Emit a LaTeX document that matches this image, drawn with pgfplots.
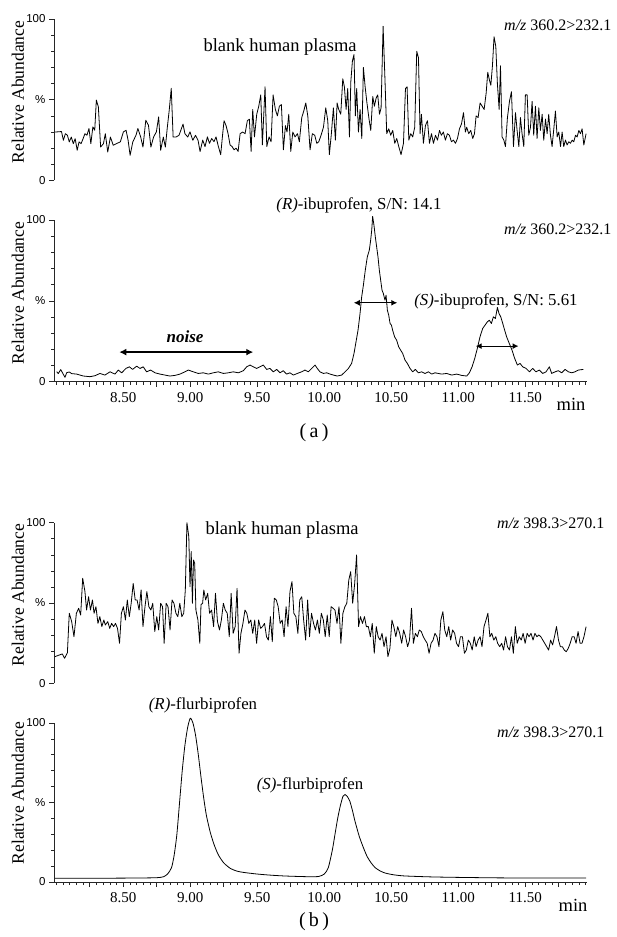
\documentclass[border=0pt]{standalone}
\usepackage{fontspec}
\setmainfont{Liberation Serif}
\newfontfamily\ysans{Liberation Sans}
\usepackage{pgfplots}
\pgfplotsset{compat=1.18}
\usetikzlibrary{arrows.meta}

\newcommand\fs[1]{\fontsize{#1}{#1}\selectfont}

\tikzset{
  dbl/.style={{Latex[length=#1,width=#1]}-{Latex[length=#1,width=#1]}},
}

\pgfplotsset{
  chrom/.style={
    scale only axis, width=532.5pt,
    xmin=7.983, xmax=11.957, ymin=0, ymax=100,
    clip=false, anchor=south west,
    axis line style={line width=0.8pt, black!85},
    tick style={line width=0.6pt, black!85},
    tick align=outside,
    major tick length=5pt, minor tick length=3pt,
    ytick={0,50,100}, yticklabels={0,\%,100},
    minor ytick={10,20,30,40,60,70,80,90},
    yticklabel style={font=\ysans\fs{11.5}},
  },
  withx/.style={
    axis lines*=left,
    xtick={8.25,8.5,...,11.75},
    xticklabels={,8.50,,9.00,,9.50,,10.00,,10.50,,11.00,,11.50,},
    minor xtick={8.0,8.05,...,11.96},
    xticklabel style={font=\fs{15}, yshift=-2pt},
  },
  nox/.style={axis y line*=left, axis x line=none, xtick=\empty},
  trace/.style={black, line width=0.8pt, line join=round, mark=none},
}

\begin{document}
\begin{tikzpicture}
\path[use as bounding box] (0,0) rectangle (617pt,937pt);

% (a) top: blank human plasma, ibuprofen channel
\begin{axis}[chrom, nox, at={(54pt,756.5pt)}, height=161.5pt]
\addplot[trace] coordinates {
(7.990,30.0) (8.039,30.3) (8.053,24.9) (8.068,29.0) (8.083,28.0) (8.097,23.9) (8.112,26.9)
(8.127,22.8) (8.141,25.9) (8.156,18.7) (8.170,23.9) (8.185,22.8) (8.200,25.9) (8.214,29.0)
(8.229,28.0) (8.244,32.2) (8.258,22.8) (8.273,33.2) (8.287,31.1) (8.299,49.8) (8.314,45.6)
(8.331,20.7) (8.352,22.8) (8.366,29.0) (8.384,17.6) (8.404,26.9) (8.425,21.8) (8.448,22.8)
(8.478,23.9) (8.501,30.1) (8.521,31.1) (8.536,24.9) (8.551,15.6) (8.571,23.9) (8.595,28.0)
(8.609,32.2) (8.630,26.9) (8.647,20.7) (8.668,37.3) (8.688,34.2) (8.706,20.7) (8.726,26.9)
(8.747,30.1) (8.764,39.4) (8.779,18.7) (8.799,26.9) (8.814,20.7) (8.829,33.2) (8.843,43.6)
(8.858,57.1) (8.872,26.9) (8.893,26.9) (8.916,28.0) (8.946,34.9) (8.960,29.0) (8.981,26.9)
(8.998,30.1) (9.019,24.9) (9.039,28.0) (9.058,24.9)
(9.073,17.9) (9.093,25) (9.110,21) (9.128,27) (9.143,23) (9.160,26) (9.177,24) (9.192,27)
(9.210,21) (9.227,16) (9.242,29) (9.252,37) (9.267,34) (9.282,29) (9.297,22) (9.312,21)
(9.327,19) (9.342,20) (9.357,18) (9.372,29) (9.391,30) (9.409,29) (9.426,37) (9.441,38)
(9.454,18) (9.466,44) (9.479,27) (9.496,41) (9.511,46) (9.526,53) (9.538,22) (9.558,58)
(9.571,21) (9.588,27) (9.603,24) (9.618,53) (9.635,44) (9.650,40) (9.665,46) (9.680,47)
(9.695,19) (9.710,34) (9.722,30) (9.735,41) (9.750,18) (9.765,30) (9.782,27) (9.800,29)
(9.814,24) (9.832,39) (9.847,43) (9.862,48) (9.877,40) (9.894,19) (9.911,29) (9.929,28)
(9.944,23) (9.959,24) (9.976,28) (9.994,33) (10.011,45) (10.026,37) (10.038,16) (10.053,29)
(10.068,45) (10.083,25) (10.096,48) (10.108,44) (10.123,41) (10.138,63) (10.150,58) (10.163,44)
(10.175,57) (10.188,27) (10.198,61) (10.210,74) (10.222,78) (10.232,40) (10.242,57) (10.255,30)
(10.267,44) (10.280,26) (10.292,70) (10.305,58) (10.317,49) (10.334,38) (10.347,31) (10.362,52)
(10.374,46) (10.387,51) (10.399,53) (10.412,41) (10.424,45) (10.439,95.5) (10.454,60) (10.466,29)
(10.481,32) (10.496,28) (10.511,31) (10.526,23) (10.541,26) (10.556,21) (10.573,16) (10.591,23)
(10.606,57) (10.618,58) (10.631,25) (10.645,29) (10.660,27) (10.675,33) (10.690,80) (10.703,76)
(10.715,29) (10.725,41) (10.740,23) (10.755,34) (10.770,37) (10.785,23) (10.800,29) (10.815,23)
(10.830,28) (10.845,25) (10.860,31) (10.874,28) (10.889,30) (10.904,25) (10.919,29) (10.934,28)
(10.949,24) (10.964,25) (10.979,23) (10.994,26) (11.009,32) (11.024,35) (11.039,42) (11.053,30)
(11.063,33) (11.078,29) (11.093,31) (11.108,26) (11.121,29) (11.133,40) (11.148,39) (11.163,48)
(11.178,46) (11.193,44) (11.208,54) (11.220,67) (11.233,62) (11.243,59) (11.255,71) (11.267,89)
(11.280,83) (11.292,60) (11.305,44) (11.315,71) (11.327,27) (11.340,25) (11.352,21) (11.367,39)
(11.382,49) (11.397,55) (11.412,21) (11.427,42) (11.439,31) (11.452,21) (11.464,39) (11.476,29)
(11.489,21) (11.501,53) (11.514,53) (11.526,28) (11.539,33) (11.551,49) (11.563,28) (11.576,46)
(11.588,26) (11.601,45) (11.613,31) (11.626,41) (11.638,25) (11.651,38) (11.663,29) (11.675,41)
(11.688,28) (11.700,21) (11.713,32) (11.725,43) (11.738,27) (11.750,30) (11.763,21) (11.775,30)
(11.787,21) (11.800,25) (11.812,22) (11.825,24) (11.837,23) (11.850,25) (11.862,24) (11.875,28)
(11.887,27) (11.900,31) (11.912,29) (11.924,32) (11.937,22) (11.954,29)
};
\end{axis}

% (a) bottom: ibuprofen enantiomers
\begin{axis}[chrom, withx, at={(54pt,555.3pt)}, height=161.7pt]
\addplot[trace] coordinates {
(8.003,6.2) (8.015,5.0) (8.033,7.5) (8.053,4.5) (8.065,2.7) (8.078,5.6) (8.097,6.0) (8.115,5.0)
(8.152,4.7) (8.202,3.5) (8.252,3.1) (8.289,3.7)
(8.326,5.1) (8.363,4.1) (8.401,6.1) (8.438,4.7) (8.463,7.2) (8.488,5.5) (8.520,8.2) (8.545,9.2)
(8.570,7.6) (8.600,9.6) (8.625,8.2) (8.649,9.2) (8.674,6.1) (8.704,7.2) (8.737,5.5) (8.774,4.7)
(8.811,4.1) (8.848,3.5) (8.886,3.9) (8.923,4.7) (8.960,6.1) (8.985,7.2) (9.023,6.1) (9.060,5.1)
(9.097,5.5) (9.135,4.7) (9.172,5.5) (9.209,6.1) (9.247,5.1) (9.284,5.5) (9.321,6.1) (9.359,5.5)
(9.396,6.8) (9.421,9.2) (9.446,10.3) (9.470,9.2) (9.495,8.2) (9.520,9.2) (9.545,10.3) (9.570,7.6)
(9.595,8.2) (9.620,6.1) (9.645,7.6) (9.670,5.5) (9.694,6.8) (9.719,4.7) (9.744,5.5) (9.769,4.1)
(9.799,5.1) (9.831,6.1) (9.856,7.2) (9.881,6.1) (9.906,8.2) (9.931,10.3) (9.948,8.2) (9.968,6.1)
(9.993,5.1) (10.018,5.5) (10.043,4.7) (10.068,4.1) (10.097,3.5) (10.130,4.1) (10.155,6.1) (10.180,8.2)
(10.204,11.3) (10.222,17.5) (10.237,24.7) (10.252,31.9) (10.267,42.2) (10.279,52.4) (10.292,59.7)
(10.306,68.9) (10.321,77.1) (10.336,81.3) (10.346,87.4) (10.354,93.6) (10.361,102.2) (10.371,96.7)
(10.381,89.5) (10.391,83.3) (10.401,77.1) (10.411,68.9) (10.421,62.7) (10.431,56.6) (10.441,54.5)
(10.453,50.4) (10.461,53.5) (10.471,44.2) (10.481,41.1) (10.491,36.0) (10.501,35.0) (10.510,31.9)
(10.525,27.7) (10.540,25.7) (10.555,21.6) (10.570,19.5) (10.585,17.5) (10.603,13.3) (10.620,11.3)
(10.640,8.2) (10.660,6.1) (10.680,7.6) (10.702,5.5) (10.727,6.1) (10.752,5.1) (10.777,6.1)
(10.802,4.7) (10.826,5.5) (10.851,5.1) (10.876,4.7) (10.914,5.1) (10.951,4.1) (10.988,4.7)
(11.025,3.9) (11.063,3.5) (11.083,5.5) (11.103,9.2) (11.123,14.4) (11.142,20.5) (11.162,27.7)
(11.182,32.9) (11.200,35.0) (11.217,37.0) (11.232,38.0) (11.247,36.0) (11.262,40.1) (11.277,39.1)
(11.292,45.9) (11.304,42.2) (11.317,40.1) (11.332,36.0) (11.346,31.9) (11.361,27.7) (11.381,23.6)
(11.401,19.5) (11.421,14.4) (11.441,10.3) (11.461,11.3) (11.481,9.2) (11.506,8.2) (11.531,6.1)
(11.555,8.2) (11.580,6.1) (11.605,7.2) (11.630,5.1) (11.655,6.1) (11.680,9.2) (11.697,5.1)
(11.722,6.1) (11.747,6.8) (11.772,5.5) (11.797,7.6) (11.822,6.1) (11.847,5.5) (11.871,6.1)
(11.896,7.2) (11.934,7.6)
};
\draw[dbl=7pt, line width=1.4pt] (axis cs:8.47,18.3) -- (axis cs:9.47,18.3);
\draw[dbl=6pt, line width=1.2pt] (axis cs:10.22,48.8) -- (axis cs:10.545,48.8);
\draw[dbl=6pt, line width=1.2pt] (axis cs:11.13,22) -- (axis cs:11.45,22);
\end{axis}

% (b) top: blank human plasma, flurbiprofen channel
\begin{axis}[chrom, nox, at={(54pt,253.7pt)}, height=160.6pt]
\addplot[trace] coordinates {
(7.990,16.6) (8.045,18.3) (8.062,15.6) (8.083,19.1) (8.097,43.6) (8.115,38.4) (8.132,29.0)
(8.150,43.6) (8.167,46.7) (8.182,42.5) (8.197,65.4) (8.214,57.1) (8.226,45.6) (8.241,53.9)
(8.255,45.6) (8.270,51.9) (8.282,43.6) (8.296,47.7) (8.311,37.3) (8.325,41.5) (8.340,35.3)
(8.355,39.4) (8.366,36.3) (8.384,38.4) (8.399,34.2) (8.413,37.3) (8.428,35.3) (8.442,37.3)
(8.457,34.2) (8.472,24.9) (8.486,43.6) (8.501,47.7) (8.516,39.4) (8.530,51.9) (8.545,41.5)
(8.559,49.8) (8.574,62.2) (8.589,51.9) (8.603,51.9) (8.618,45.6) (8.633,58.1) (8.647,35.3)
(8.662,47.7) (8.676,57.1) (8.691,47.7) (8.706,45.6) (8.720,49.8) (8.735,32.2) (8.750,41.5)
(8.764,33.2) (8.779,49.8) (8.793,47.7) (8.805,24.9) (8.820,49.8) (8.834,47.7) (8.849,33.2)
(8.864,51.9) (8.878,49.8) (8.893,43.6) (8.907,41.5) (8.922,49.8) (8.937,41.5) (8.951,43.6)
(8.963,58.1) (8.975,100) (8.989,91.3) (8.998,60.2) (9.007,82.0) (9.016,49.8) (9.024,76.8)
(9.033,74.7) (9.042,45.6) (9.057,39.4) (9.071,24.9) (9.080,49.0) (9.092,49.8) (9.101,58.1)
(9.115,51.9) (9.130,56.0) (9.144,43.6) (9.159,45.6) (9.174,35.3) (9.188,56.0) (9.203,38.4)
(9.218,33.2) (9.232,39.4) (9.247,49.8) (9.261,45.6) (9.276,43.6) (9.291,29.0) (9.305,56.0)
(9.320,31.1) (9.335,35.3) (9.349,59.1) (9.364,18.7) (9.378,31.1) (9.393,37.3) (9.408,45.6)
(9.422,43.6) (9.437,37.3) (9.452,39.4) (9.466,31.1) (9.481,39.4) (9.495,24.9) (9.510,39.4)
(9.525,34.2) (9.539,35.3) (9.554,37.3) (9.569,29.0) (9.583,26.9) (9.598,41.5) (9.612,25.9)
(9.627,53.0) (9.642,51.9) (9.656,47.7) (9.671,37.3) (9.686,39.4) (9.700,29.0) (9.715,47.7)
(9.729,35.3) (9.744,57.1) (9.759,63.3) (9.773,43.6) (9.788,41.5) (9.803,31.1) (9.817,51.9)
(9.832,53.9) (9.846,39.4) (9.861,26.9) (9.876,51.9) (9.890,29.0) (9.905,43.6) (9.920,37.3)
(9.934,33.2) (9.949,39.4) (9.963,31.1) (9.978,43.6) (9.993,39.4) (10.007,29.0) (10.022,42.5)
(10.037,29.0) (10.051,47.7) (10.066,46.7) (10.080,45.6) (10.095,37.3) (10.110,47.7) (10.124,24.9)
(10.139,43.6) (10.154,47.7) (10.168,49.8) (10.183,64.3) (10.197,69.5) (10.212,49.8) (10.227,62.2)
(10.241,79.9) (10.256,35.3) (10.270,41.5) (10.285,37.3) (10.300,41.5) (10.314,35.3) (10.329,35.3)
(10.344,29.0) (10.358,37.3) (10.373,18.7) (10.388,35.3) (10.402,29.0) (10.417,26.9) (10.431,31.1)
(10.446,22.8) (10.461,29.0) (10.475,16.6) (10.490,21.8) (10.505,39.4) (10.519,35.3) (10.534,29.0)
(10.548,35.3) (10.563,31.1) (10.578,24.9) (10.592,33.2) (10.607,29.0) (10.622,22.8) (10.636,26.9)
(10.651,46.7) (10.665,24.9) (10.680,31.1) (10.695,29.0) (10.709,33.2) (10.724,32.2) (10.739,29.0)
(10.753,26.9) (10.768,24.9) (10.782,18.7) (10.797,24.9) (10.812,26.9) (10.826,31.1) (10.841,29.0)
(10.856,22.8) (10.870,39.4) (10.885,44.6) (10.899,33.2) (10.914,29.0) (10.929,35.3) (10.943,26.9)
(10.958,33.2) (10.973,31.1) (10.987,24.9) (11.002,22.8) (11.016,29.0) (11.031,29.0) (11.046,18.7)
(11.060,20.7) (11.075,26.9) (11.090,24.9) (11.104,20.7) (11.119,29.0) (11.133,22.8) (11.148,26.9)
(11.163,29.0) (11.177,22.8) (11.192,35.3) (11.207,39.4) (11.221,43.6) (11.236,29.0) (11.250,31.1)
(11.265,26.9) (11.280,29.0) (11.294,24.9) (11.309,22.8) (11.324,24.9) (11.338,20.7) (11.353,29.0)
(11.367,22.8) (11.382,20.7) (11.397,29.0) (11.411,18.7) (11.426,35.3) (11.440,24.9) (11.455,29.0)
(11.470,26.9) (11.484,31.1) (11.499,24.9) (11.514,31.1) (11.528,29.0) (11.543,31.1) (11.558,26.9)
(11.572,31.1) (11.587,29.0) (11.601,30.1) (11.616,29.0) (11.631,26.9) (11.645,24.9) (11.660,22.8)
(11.674,20.7) (11.689,26.9) (11.704,23.9) (11.718,29.0) (11.733,35.3) (11.748,26.9) (11.762,22.8)
(11.777,22.8) (11.791,20.7) (11.806,19.7) (11.821,21.8) (11.835,24.9) (11.850,29.0) (11.865,29.0)
(11.879,24.9) (11.894,32.2) (11.909,24.9) (11.923,24.9) (11.938,29.0) (11.954,35.3)
};
\end{axis}

% (b) bottom: flurbiprofen enantiomers
\begin{axis}[chrom, withx, at={(54pt,55pt)}, height=159pt]
\addplot[trace, smooth, tension=0.4] coordinates {
(7.990,2.4) (8.200,2.3) (8.400,2.4) (8.600,2.5) (8.750,2.7) (8.800,3.3) (8.830,5) (8.860,9)
(8.880,17) (8.900,30) (8.920,50) (8.940,70) (8.960,86) (8.980,97) (9.000,103) (9.020,100)
(9.040,92) (9.060,80) (9.080,66) (9.100,53) (9.120,42) (9.150,31) (9.180,23) (9.210,17)
(9.250,12) (9.300,8.5) (9.350,6.8) (9.400,6.0) (9.500,5.0) (9.600,4.3) (9.700,3.8) (9.800,3.5)
(9.900,3.3) (9.960,3.5) (10.000,5) (10.030,9) (10.060,20) (10.080,30) (10.100,40) (10.120,48)
(10.140,54) (10.155,55) (10.170,54) (10.190,51) (10.210,45) (10.230,38) (10.260,29) (10.290,22)
(10.320,16) (10.350,12) (10.380,9) (10.420,6.8) (10.460,5.5) (10.520,4.5) (10.600,3.8)
(10.800,3.2) (11.000,2.9) (11.300,2.6) (11.600,2.5) (11.954,2.5)
};
\end{axis}

% axis titles
\foreach \yy in {845,644,342,144}
  \node[rotate=90, font=\fs{17.5}] at (18pt,\yy pt) {Relative Abundance};

% annotations (a)
\node[anchor=west, font=\fs{18.5}] at (200pt,890pt) {blank human plasma};
\node[anchor=east, font=\fs{16}] at (615pt,912pt) {\textit{m/z} 360.2>232.1};
\node[font=\fs{16.8}] at (359pt,732pt) {\textit{(R)}-ibuprofen, S/N: 14.1};
\node[anchor=east, font=\fs{16}] at (615pt,708pt) {\textit{m/z} 360.2>232.1};
\node[font=\fs{16.8}] at (496pt,636pt) {\textit{(S)}-ibuprofen, S/N: 5.61};
\node[font=\fs{17}\bfseries\itshape] at (185pt,600pt) {noise};
\node[font=\fs{18.5}] at (571pt,533pt) {min};
\node[font=\fs{20}] at (314pt,504pt) {(\,a\,)};

% annotations (b)
\node[anchor=west, font=\fs{18.5}] at (202pt,407pt) {blank human plasma};
\node[anchor=east, font=\fs{16}] at (608pt,414pt) {\textit{m/z} 398.3>270.1};
\node[font=\fs{16.8}] at (203pt,232pt) {\textit{(R)}-flurbiprofen};
\node[font=\fs{16.8}] at (310pt,152pt) {\textit{(S)}-flurbiprofen};
\node[anchor=east, font=\fs{16}] at (608pt,205pt) {\textit{m/z} 398.3>270.1};
\node[font=\fs{18.5}] at (573pt,32pt) {min};
\node[font=\fs{20}] at (314pt,15pt) {(\,b\,)};
\end{tikzpicture}
\end{document}
